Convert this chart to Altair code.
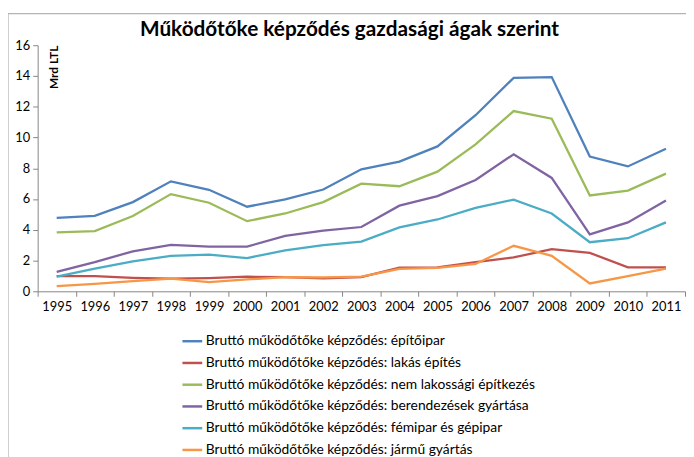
import altair as alt
import pandas as pd

years = [str(y) for y in range(1995, 2012)]

series_names = [
    "Bruttó működőtőke képződés: építőipar",
    "Bruttó működőtőke képződés: lakás építés",
    "Bruttó működőtőke képződés: nem lakossági építkezés",
    "Bruttó működőtőke képződés: berendezések  gyártása",
    "Bruttó működőtőke képződés: fémipar és gépipar",
    "Bruttó működőtőke képződés: jármű gyártás",
]
colors = ["#4F81BD", "#C0504D", "#9BBB59", "#8064A2", "#4BACC6", "#F79646"]

epitoipar = [4.78, 4.9, 5.8, 7.15, 6.6, 5.5, 5.98, 6.62, 7.93, 8.43, 9.42, 11.45, 13.88, 13.93, 8.76, 8.12, 9.27]
lakas = [0.98, 0.98, 0.88, 0.82, 0.86, 0.95, 0.92, 0.84, 0.92, 1.54, 1.56, 1.9, 2.2, 2.74, 2.5, 1.56, 1.56]
nem_lakossagi = [3.83, 3.92, 4.9, 6.32, 5.76, 4.56, 5.06, 5.8, 7.0, 6.83, 7.78, 9.55, 11.72, 11.22, 6.23, 6.55, 7.65]
berendezesek = [1.26, 1.9, 2.6, 3.02, 2.91, 2.91, 3.6, 3.94, 4.18, 5.57, 6.19, 7.24, 8.91, 7.37, 3.7, 4.48, 5.91]
femipar = [0.95, 1.48, 1.95, 2.31, 2.38, 2.16, 2.66, 3.0, 3.23, 4.16, 4.67, 5.42, 5.96, 5.06, 3.19, 3.45, 4.48]
jarmu = [0.34, 0.49, 0.66, 0.82, 0.6, 0.77, 0.92, 0.9, 0.95, 1.46, 1.52, 1.78, 2.96, 2.31, 0.51, 0.98, 1.48]

all_values = [epitoipar, lakas, nem_lakossagi, berendezesek, femipar, jarmu]

title_text = "Működőtőke képződés gazdasági ágak szerint"

rows = []
for name, vals in zip(series_names, all_values):
    for y, v in zip(years, vals):
        rows.append({"ev": y, "sorozat": name, "ertek": v})
df = pd.DataFrame(rows)

W, H = 655, 249
FONT = "Lato"

lines = alt.Chart(df).mark_line(strokeWidth=2.3).encode(
    x=alt.X(
        "ev:O",
        bandPosition=0.5,
        scale=alt.Scale(type="band", paddingInner=0, paddingOuter=0),
        axis=alt.Axis(
            title=None,
            labelAngle=0,
            tickBand="extent",
            tickSize=5,
            labelFontSize=13,
            labelColor="#000000",
            labelFont=FONT,
            labelPadding=4,
            domainColor="#868686",
            tickColor="#868686",
        ),
    ),
    y=alt.Y(
        "ertek:Q",
        scale=alt.Scale(domain=[0, 16], nice=False),
        axis=alt.Axis(
            values=list(range(0, 17, 2)),
            grid=False,
            tickSize=5,
            labelFontSize=13,
            labelColor="#000000",
            labelFont=FONT,
            labelPadding=3,
            domainColor="#868686",
            tickColor="#868686",
            title="Mrd LTL",
            titleFont=FONT,
            titleFontSize=12,
            titleFontWeight="bold",
            titleAngle=270,
            titleX=11,
            titleY=0,
            titleAlign="right",
            titleBaseline="top",
            titleColor="#000000",
        ),
    ),
    color=alt.Color(
        "sorozat:N",
        scale=alt.Scale(domain=series_names, range=colors),
        sort=series_names,
        legend=alt.Legend(
            title=None,
            orient="none",
            legendX=145,
            legendY=288,
            direction="vertical",
            symbolType="stroke",
            symbolSize=400,
            symbolStrokeWidth=2.5,
            labelFont=FONT,
            labelFontSize=14,
            labelColor="#000000",
            labelOffset=2,
            rowPadding=3,
            labelLimit=600,
        ),
    ),
)

border_df = pd.DataFrame({"a": [0]})
top_border = alt.Chart(border_df).mark_rule(color="#B4B4B4", strokeWidth=1.3).encode(
    x=alt.value(-30), x2=alt.value(W + 5), y=alt.value(-32)
)
left_border = alt.Chart(border_df).mark_rule(color="#B4B4B4", strokeWidth=1.3).encode(
    x=alt.value(-30), y=alt.value(-32), y2=alt.value(H + 250)
)
title_mark = alt.Chart(border_df).mark_text(
    text=title_text,
    font=FONT,
    fontSize=21,
    fontWeight="bold",
    color="#000000",
    align="center",
    baseline="middle",
).encode(x=alt.value(W / 2 - 12), y=alt.value(-15))

chart = (
    alt.layer(lines, top_border, left_border, title_mark)
    .properties(
        width=W,
        height=H,
        autosize=alt.AutoSizeParams(type="none"),
        padding={"left": 30, "top": 35, "right": 1, "bottom": 165},
    )
    .configure_view(stroke=None)
)

chart.save("out.html", embed_options={"renderer": "svg", "actions": False})
